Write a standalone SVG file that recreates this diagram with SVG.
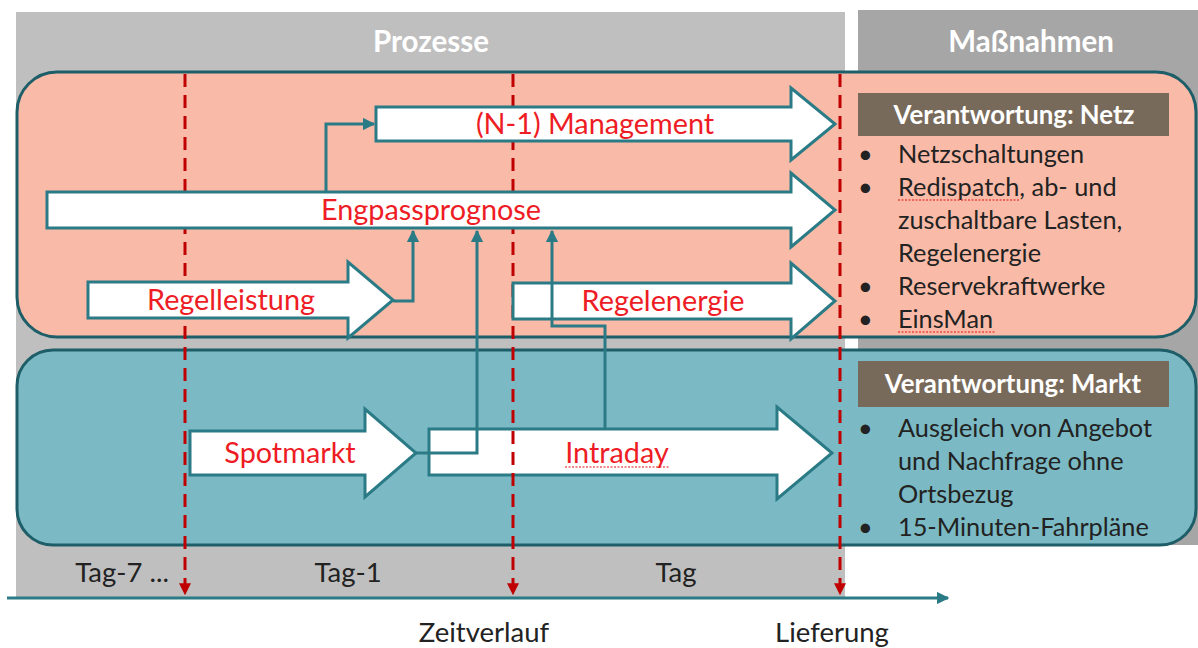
<svg xmlns="http://www.w3.org/2000/svg" width="1198" height="648" viewBox="0 0 1198 648">
<defs>
<style>
.hdr{font-family:Lato,"Open Sans",sans-serif;font-weight:bold;font-size:29.5px;fill:#ffffff;text-anchor:middle}
.resp{font-family:Lato,"Open Sans",sans-serif;font-weight:bold;font-size:25.8px;fill:#ffffff;text-anchor:middle}
.lbl{font-family:Lato,"Open Sans",sans-serif;font-size:28.8px;fill:#ee1c24;text-anchor:middle}
.bul{font-family:Lato,"Open Sans",sans-serif;font-size:25.3px;fill:#222222}
.axl{font-family:Lato,"Open Sans",sans-serif;font-size:27.5px;fill:#222222;text-anchor:middle}
.arrow{fill:#ffffff;stroke:#2a7b86;stroke-width:3;stroke-linejoin:miter}
.conn{fill:none;stroke:#2a7b86;stroke-width:3}
.dash{stroke:#c00000;stroke-width:3;stroke-dasharray:13 8;fill:none}
.spell{stroke:#e01010;stroke-width:1.2;stroke-dasharray:2 1.5;fill:none}
</style>
<marker id="ah" viewBox="0 0 10 10" refX="9" refY="5" markerWidth="4.2" markerHeight="4.2" orient="auto" markerUnits="strokeWidth">
<path d="M0,0 L10,5 L0,10 z" fill="#2a7b86"/>
</marker>
<marker id="rh" viewBox="0 0 10 10" refX="9" refY="5" markerWidth="4" markerHeight="4" orient="auto" markerUnits="strokeWidth">
<path d="M0,0 L10,5 L0,10 z" fill="#c00000"/>
</marker>
</defs>
<rect width="1198" height="648" fill="#ffffff"/>
<g id="bg-prozesse">
<rect x="16" y="12" width="829" height="586" fill="#bfbfbf"/>
<text class="hdr" x="431" y="52">Prozesse</text>
</g>
<g id="bg-massnahmen">
<rect x="858" y="10" width="340" height="535" fill="#a6a6a6"/>
<text class="hdr" x="1031" y="52">Maßnahmen</text>
</g>
<g id="netz-box">
<rect x="17" y="72" width="1179" height="265" rx="40" ry="40" fill="#f9bba8" stroke="#1e5e68" stroke-width="3"/>
</g>
<g id="markt-box">
<rect x="17" y="350" width="1179" height="195" rx="36" ry="36" fill="#7bbac4" stroke="#1e5e68" stroke-width="3"/>
</g>
<g id="intraday">
<polygon class="arrow" points="429,429 777,429 777,407 832,453 777,499 777,475 429,475"/>
</g>
<g id="timeline">
<line class="dash" x1="185" y1="74" x2="185" y2="594" marker-end="url(#rh)"/>
<line class="dash" x1="513" y1="74" x2="513" y2="594" marker-end="url(#rh)"/>
<line class="dash" x1="840" y1="74" x2="840" y2="594" marker-end="url(#rh)"/>
<line x1="7" y1="598" x2="948" y2="598" stroke="#2a7b86" stroke-width="3" marker-end="url(#ah)"/>
<text class="axl" x="122" y="582">Tag-7 ...</text>
<text class="axl" x="348" y="582">Tag-1</text>
<text class="axl" x="676" y="582">Tag</text>
<text class="axl" x="484" y="642">Zeitverlauf</text>
<text class="axl" x="832" y="642">Lieferung</text>
</g>
<g id="n1-management">
<polygon class="arrow" points="376,107 791,107 791,88 835,124 791,160 791,141 376,141"/>
<text class="lbl" x="595" y="134">(N-1) Management</text>
</g>
<g id="engpassprognose">
<polygon class="arrow" points="47,192 791,192 791,173 835,210 791,247 791,228 47,228"/>
<text class="lbl" x="431" y="220">Engpassprognose</text>
</g>
<g id="regelleistung">
<polygon class="arrow" points="88,282 348,282 348,262 393,300 348,338 348,318 88,318"/>
<text class="lbl" x="231" y="310">Regelleistung</text>
</g>
<g id="regelenergie">
<polygon class="arrow" points="513,283 791,283 791,263 835,301 791,339 791,319 513,319"/>
<text class="lbl" x="663" y="311">Regelenergie</text>
</g>
<g id="spotmarkt">
<polygon class="arrow" points="190,431 365,431 365,409 416,453 365,497 365,475 190,475"/>
<text class="lbl" x="290" y="463">Spotmarkt</text>
</g>
<g id="intraday-label">
<text class="lbl" x="617" y="463">Intraday</text>
<line class="spell" x1="565" y1="467" x2="669" y2="467"/>
</g>
<g id="connectors">
<path class="conn" d="M326,192 V124 H374" marker-end="url(#ah)"/>
<path class="conn" d="M393,301 H413 V231" marker-end="url(#ah)"/>
<path class="conn" d="M416,453 H477 V231" marker-end="url(#ah)"/>
<path class="conn" d="M605,429 V326 H552 V231" marker-end="url(#ah)"/>
</g>
<g id="verantwortung-netz">
<rect x="858" y="93" width="311" height="43" fill="#786a5a"/>
<text class="resp" x="1014" y="124">Verantwortung: Netz</text>
<text class="bul" x="858" y="163">•</text>
<text class="bul" x="898" y="163">Netzschaltungen</text>
<text class="bul" x="858" y="196">•</text>
<text class="bul" x="898" y="196">Redispatch, ab- und</text>
<line class="spell" x1="898" y1="200" x2="1019" y2="200"/>
<text class="bul" x="898" y="229">zuschaltbare Lasten,</text>
<text class="bul" x="898" y="262">Regelenergie</text>
<text class="bul" x="858" y="295">•</text>
<text class="bul" x="898" y="295">Reservekraftwerke</text>
<text class="bul" x="858" y="328">•</text>
<text class="bul" x="898" y="328">EinsMan</text>
<line class="spell" x1="898" y1="332" x2="995" y2="332"/>
</g>
<g id="verantwortung-markt">
<rect x="858" y="361" width="311" height="46" fill="#786a5a"/>
<text class="resp" x="1013" y="393">Verantwortung: Markt</text>
<text class="bul" x="858" y="437">•</text>
<text class="bul" x="898" y="437">Ausgleich von Angebot</text>
<text class="bul" x="898" y="470">und Nachfrage ohne</text>
<text class="bul" x="898" y="503">Ortsbezug</text>
<text class="bul" x="858" y="536">•</text>
<text class="bul" x="898" y="536">15-Minuten-Fahrpläne</text>
</g>
</svg>
